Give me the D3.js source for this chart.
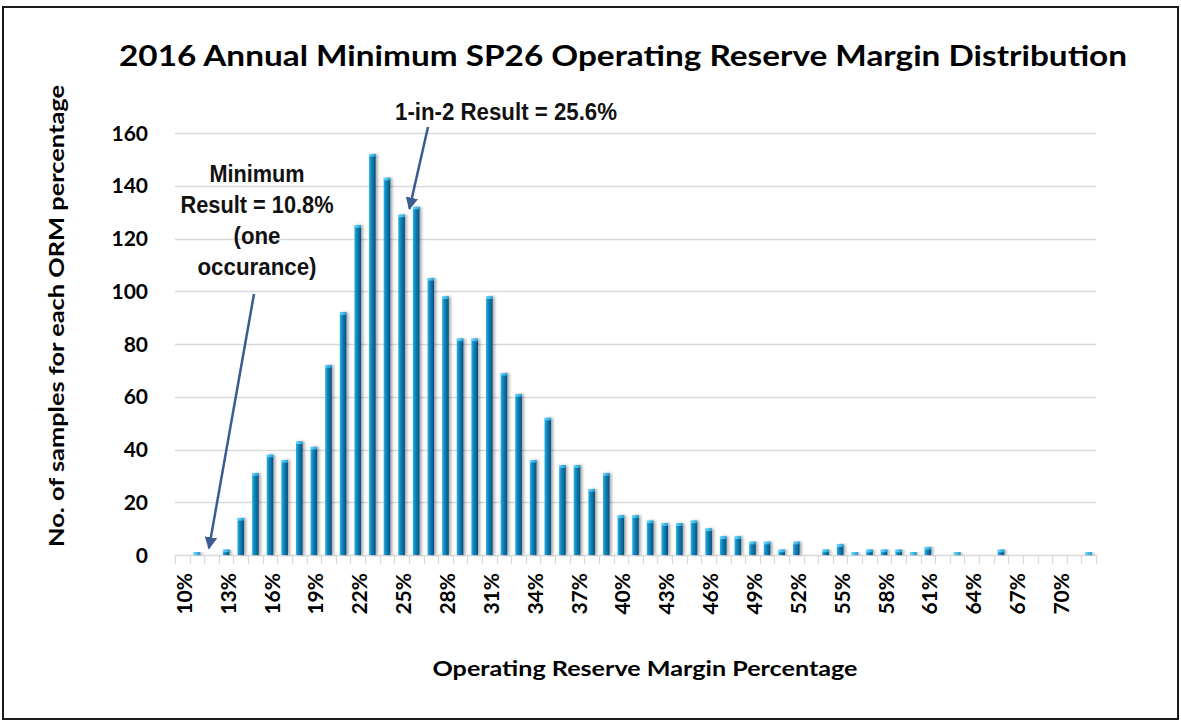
<!DOCTYPE html>
<html>
<head>
<meta charset="utf-8">
<script src="https://cdn.jsdelivr.net/npm/d3@7"></script>
<style>
    html, body { margin: 0; padding: 0; background: #fff; }
    svg { display: block; }
</style>
</head>
<body>
<svg id="chart" width="1181" height="721"></svg>
<script>
// ORM bins, one per whole percent, 10% .. 72%
var categories = d3.range(10, 73).map(function (d) { return d + '%'; });

// sample counts
var counts = [
    0, 1, 0, 2, 14, 31, 38, 36, 43, 41,        // 10 - 19
    72, 92, 125, 152, 143, 129, 132, 105, 98, 82, // 20 - 29
    82, 98, 69, 61, 36, 52, 34, 34, 25, 31,     // 30 - 39
    15, 15, 13, 12, 12, 13, 10, 7, 7, 5,        // 40 - 49
    5, 2, 5, 0, 2, 4, 1, 2, 2, 2,               // 50 - 59
    1, 3, 0, 1, 0, 0, 2, 0, 0, 0,               // 60 - 69
    0, 0, 1                                     // 70 - 72
];

// only every third bin gets a label
var tickLabels = ['10%', '13%', '16%', '19%', '22%', '25%', '28%', '31%', '34%', '37%',
    '40%', '43%', '46%', '49%', '52%', '55%', '58%', '61%', '64%', '67%', '70%'];

var yTicks = [0, 20, 40, 60, 80, 100, 120, 140, 160];

var titleText = '2016 Annual Minimum SP26 Operating Reserve Margin Distribution',
    xTitleText = 'Operating Reserve Margin Percentage',
    yTitleText = 'No. of samples for each ORM percentage',
    minNote = ['Minimum', 'Result = 10.8%', '(one', 'occurance)'],
    medianNote = '1-in-2 Result = 25.6%';

(function () {
    var svg = d3.select('#chart'),
        margin = {left: 175, right: 85, top: 133, bottom: 166},
        width = 1181 - margin.left - margin.right,
        height = 721 - margin.top - margin.bottom,
        calibri = "Lato, 'Open Sans', sans-serif",
        narrow = "'Liberation Sans Narrow', 'Arial Narrow', 'Liberation Sans', Arial, sans-serif";

    var x = d3.scaleBand().domain(categories).range([0, width]).paddingInner(0.55).paddingOuter(0.275),
        xb = d3.scaleBand().domain(categories).range([0, width]),
        y = d3.scaleLinear().domain([0, 160]).range([height, 0]);

    var defs = svg.append('defs');
    var grad = defs.append('linearGradient').attr('id', 'barGrad')
        .attr('x1', '0').attr('x2', '1').attr('y1', '0').attr('y2', '0');
    grad.append('stop').attr('offset', '0%').attr('stop-color', '#2bb2e6');
    grad.append('stop').attr('offset', '35%').attr('stop-color', '#1188c0');
    grad.append('stop').attr('offset', '100%').attr('stop-color', '#054e78');

    var capGrad = defs.append('linearGradient').attr('id', 'capGrad')
        .attr('x1', '0').attr('x2', '1').attr('y1', '0').attr('y2', '0');
    capGrad.append('stop').attr('offset', '0%').attr('stop-color', '#6fd6fb');
    capGrad.append('stop').attr('offset', '100%').attr('stop-color', '#1aa6de');

    var shadow = defs.append('filter').attr('id', 'barShadow')
        .attr('x', '-50%').attr('y', '-10%').attr('width', '250%').attr('height', '120%');
    shadow.append('feDropShadow').attr('dx', 2).attr('dy', 0)
        .attr('stdDeviation', 1.4).attr('flood-color', '#000').attr('flood-opacity', 0.35);

    defs.append('marker').attr('id', 'arrowHead')
        .attr('viewBox', '0 0 10 10').attr('refX', 9).attr('refY', 5)
        .attr('markerWidth', 5).attr('markerHeight', 5).attr('orient', 'auto')
        .append('path').attr('d', 'M0,0 L10,5 L0,10 z').attr('fill', '#3b5c91');

    // outer frame
    svg.append('rect').attr('x', 3).attr('y', 7).attr('width', 1175).attr('height', 712)
        .attr('fill', 'none').attr('stroke', '#1a1a1a').attr('stroke-width', 2);

    svg.append('text')
        .attr('x', 623).attr('y', 66)
        .attr('text-anchor', 'middle')
        .attr('textLength', 1008).attr('lengthAdjust', 'spacingAndGlyphs')
        .style('font-family', calibri).style('font-weight', 700).style('font-size', '29px')
        .attr('fill', '#000')
        .text(titleText);

    var g = svg.append('g').attr('transform', 'translate(' + margin.left + ',' + margin.top + ')');

    // gridlines
    g.append('g')
        .selectAll('line').data(yTicks.slice(1)).enter().append('line')
        .attr('x1', 0).attr('x2', width)
        .attr('y1', function (d) { return Math.round(y(d)) + 0.5; })
        .attr('y2', function (d) { return Math.round(y(d)) + 0.5; })
        .attr('stroke', '#d9d9d9').attr('stroke-width', 1.5);

    // y tick labels
    g.append('g')
        .selectAll('text').data(yTicks).enter().append('text')
        .attr('x', -27).attr('y', function (d) { return y(d); })
        .attr('dy', '0.36em')
        .attr('text-anchor', 'end')
        .style('font-family', calibri).style('font-weight', 700).style('font-size', '21px')
        .attr('fill', '#000')
        .text(function (d) { return d; });

    // x axis line + boundary ticks
    var xAxis = g.append('g').attr('transform', 'translate(0,' + height + ')');
    xAxis.append('line').attr('x1', 0).attr('x2', width).attr('y1', 0.5).attr('y2', 0.5)
        .attr('stroke', '#d9d9d9').attr('stroke-width', 1.5);
    xAxis.selectAll('line.tick').data(categories.concat(['end'])).enter().append('line')
        .attr('class', 'tick')
        .attr('x1', function (d, i) { return Math.round(i * xb.bandwidth()) + 0.5; })
        .attr('x2', function (d, i) { return Math.round(i * xb.bandwidth()) + 0.5; })
        .attr('y1', 0).attr('y2', 9)
        .attr('stroke', '#d9d9d9').attr('stroke-width', 1.2);

    xAxis.selectAll('text').data(tickLabels).enter().append('text')
        .attr('transform', function (d) {
            return 'translate(' + (xb(d) + xb.bandwidth() / 2 + 2) + ',18) rotate(-90)';
        })
        .attr('dy', '0.36em')
        .attr('text-anchor', 'end')
        .style('font-family', calibri).style('font-weight', 700).style('font-size', '21px')
        .attr('fill', '#000')
        .text(function (d) { return d; });

    // bars
    var data = categories.map(function (c, i) { return {cat: c, val: counts[i]}; })
        .filter(function (d) { return d.val > 0; });

    var bars = g.append('g').selectAll('g.bar').data(data).enter().append('g').attr('class', 'bar');
    bars.append('rect')
        .attr('x', function (d) { return x(d.cat); })
        .attr('y', function (d) { return y(d.val); })
        .attr('width', x.bandwidth())
        .attr('height', function (d) { return height - y(d.val); })
        .attr('fill', 'url(#barGrad)')
        .attr('filter', 'url(#barShadow)');
    bars.append('rect')
        .attr('x', function (d) { return x(d.cat); })
        .attr('y', function (d) { return y(d.val); })
        .attr('width', x.bandwidth())
        .attr('height', function (d) { return Math.min(2.5, height - y(d.val)); })
        .attr('fill', 'url(#capGrad)');

    // axis titles
    svg.append('text')
        .attr('transform', 'translate(64,316) rotate(-90)')
        .attr('text-anchor', 'middle')
        .attr('textLength', 462).attr('lengthAdjust', 'spacingAndGlyphs')
        .style('font-family', calibri).style('font-weight', 700).style('font-size', '21px')
        .attr('fill', '#000')
        .text(yTitleText);

    svg.append('text')
        .attr('x', 645).attr('y', 676)
        .attr('text-anchor', 'middle')
        .attr('textLength', 425).attr('lengthAdjust', 'spacingAndGlyphs')
        .style('font-family', calibri).style('font-weight', 700).style('font-size', '21px')
        .attr('fill', '#000')
        .text(xTitleText);

    // annotations
    var noteWidths = [95, 153, 47, 119];
    svg.append('g').selectAll('text').data(minNote).enter().append('text')
        .attr('x', 257).attr('y', function (d, i) { return 182 + i * 31; })
        .attr('text-anchor', 'middle')
        .attr('textLength', function (d, i) { return noteWidths[i]; })
        .attr('lengthAdjust', 'spacingAndGlyphs')
        .style('font-family', narrow).style('font-weight', 700).style('font-size', '23px')
        .attr('fill', '#111')
        .text(function (d) { return d; });

    svg.append('text')
        .attr('x', 506).attr('y', 120)
        .attr('text-anchor', 'middle')
        .attr('textLength', 222).attr('lengthAdjust', 'spacingAndGlyphs')
        .style('font-family', narrow).style('font-weight', 700).style('font-size', '23px')
        .attr('fill', '#111')
        .text(medianNote);

    // arrows point at the 11% and 25-26% bars
    var minTip = [margin.left + xb('11%') + xb.bandwidth() / 2 + 12, margin.top + y(counts[1]) - 4],
        medTip = [margin.left + xb('25%') + xb.bandwidth() + 0.5, margin.top + y(counts[16]) + 2];

    svg.append('line')
        .attr('x1', 254).attr('y1', 294).attr('x2', minTip[0]).attr('y2', minTip[1])
        .attr('stroke', '#3b5c91').attr('stroke-width', 2.5)
        .attr('marker-end', 'url(#arrowHead)');

    svg.append('line')
        .attr('x1', 428).attr('y1', 127).attr('x2', medTip[0]).attr('y2', medTip[1])
        .attr('stroke', '#3b5c91').attr('stroke-width', 2.5)
        .attr('marker-end', 'url(#arrowHead)');
})();
</script>
</body>
</html>
